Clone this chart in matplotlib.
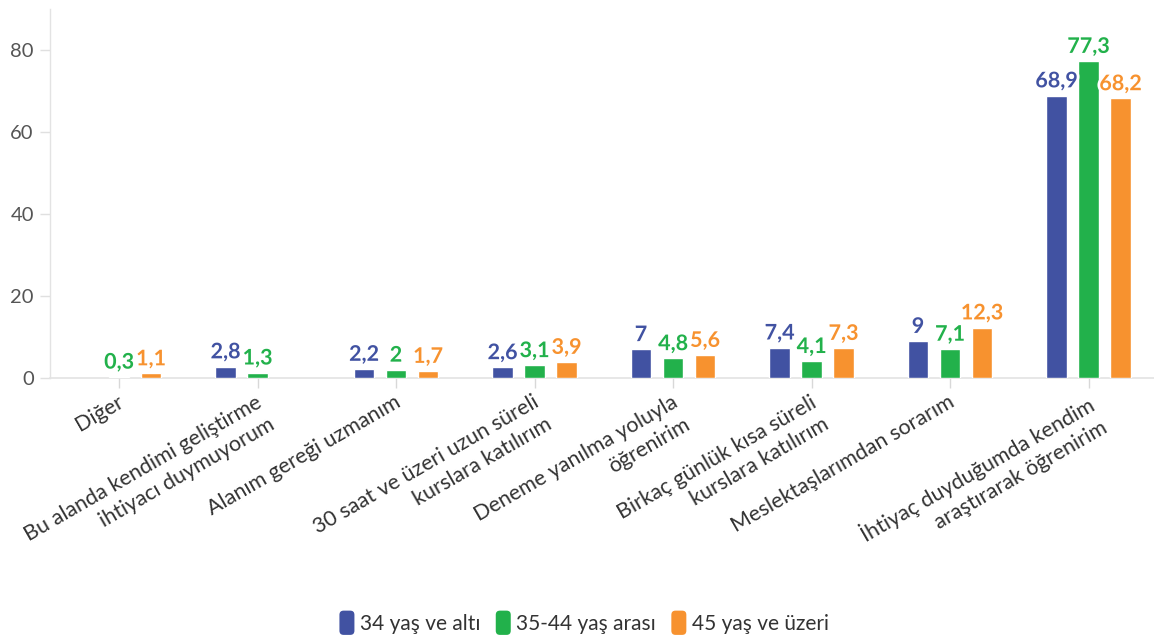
import numpy as np
import matplotlib
matplotlib.use("Agg")
import matplotlib.pyplot as plt
from matplotlib import patheffects, transforms
from matplotlib.patches import FancyBboxPatch
from matplotlib.legend_handler import HandlerPatch

plt.rcParams['font.family'] = ['Lato', 'DejaVu Sans']

categories = [
    "Diğer",
    "Bu alanda kendimi geliştirme\nihtiyacı duymuyorum",
    "Alanım gereği uzmanım",
    "30 saat ve üzeri uzun süreli\nkurslara katılırım",
    "Deneme yanılma yoluyla\nöğrenirim",
    "Birkaç günlük kısa süreli\nkurslara katılırım",
    "Meslektaşlarımdan sorarım",
    "İhtiyaç duyduğumda kendim\naraştırarak öğrenirim",
]
series_names = ["34 yaş ve altı", "35-44 yaş arası", "45 yaş ve üzeri"]
young = [None, 2.8, 2.2, 2.6, 7.0, 7.4, 9.0, 68.9]
middle = [0.3, 1.3, 2.0, 3.1, 4.8, 4.1, 7.1, 77.3]
senior = [1.1, None, 1.7, 3.9, 5.6, 7.3, 12.3, 68.2]
colors = ["#4152a2", "#22b14b", "#f7922f"]
y_ticks = [0, 20, 40, 60, 80]

W, H = 1154, 642
fig = plt.figure(figsize=(W / 100, H / 100), dpi=100)
left_px, right_px, top_px, base_px = 49.75, 1154, 9, 378
ax = fig.add_axes([left_px / W, 1 - base_px / H,
                   (right_px - left_px) / W, (base_px - top_px) / H])

x = np.arange(len(categories))
offset = 0.231
width = 0.148
halo = [patheffects.withStroke(linewidth=4, foreground="white")]

def fmt(v):
    s = f"{v:.1f}".replace(".", ",")
    return s[:-2] if s.endswith(",0") else s

for i, (vals, col) in enumerate(zip([young, middle, senior], colors)):
    xs = x + (i - 1) * offset
    for xi, v in zip(xs, vals):
        if v is None:
            continue
        ax.bar(xi, v, width=width, color=col, edgecolor="white", linewidth=1, zorder=3)
        ax.annotate(fmt(v), (xi, v), xytext=(0, 3), textcoords="offset points",
                    ha="center", va="bottom", fontsize=15.5, fontweight="bold",
                    color=col, path_effects=halo, zorder=5)

ax.set_xlim(-0.5, 7.5 - 3.75 / 138.5)
ax.set_ylim(0, 90)
ax.set_yticks(y_ticks)
ax.set_yticklabels([str(t) for t in y_ticks], fontsize=14.5, color="#555555")
ax.tick_params(axis="y", length=7.2, color="#e0e0e0", width=1, pad=4.3)

ax.set_xticks(x)
ax.set_xticklabels(categories, rotation=30, ha="right", va="top",
                   rotation_mode="anchor", fontsize=15.5, color="#333333",
                   multialignment="right", linespacing=1.35)
ax.tick_params(axis="x", length=7.2, color="#d8d8d8", width=1, pad=3)
shift = transforms.ScaledTranslation(-2 / 100, 0, fig.dpi_scale_trans)
for lbl in ax.get_xticklabels():
    lbl.set_transform(lbl.get_transform() + shift)

for s in ["top", "right"]:
    ax.spines[s].set_visible(False)
ax.spines["left"].set_color("#e3e3e3")
ax.spines["bottom"].set_color("#e3e3e3")
ax.spines["left"].set_linewidth(1)
ax.spines["bottom"].set_linewidth(1.2)


class RoundHandler(HandlerPatch):
    def create_artists(self, legend, orig_handle, xdescent, ydescent, width, height, fontsize, trans):
        p = FancyBboxPatch((-xdescent, -ydescent - 3), width, height + 6,
                           boxstyle="round,pad=0,rounding_size=3",
                           facecolor=orig_handle.get_facecolor(), edgecolor="none",
                           transform=trans)
        return [p]


handles = [FancyBboxPatch((0, 0), 1, 1, facecolor=c) for c in colors]
leg = fig.legend(handles, series_names, loc="center", bbox_to_anchor=(0.506, 1 - 624 / H),
                 ncol=3, frameon=False, fontsize=15, handlelength=0.72, handleheight=0.8,
                 handletextpad=0.25, columnspacing=0.75,
                 handler_map={FancyBboxPatch: RoundHandler()})
for t in leg.get_texts():
    t.set_color("#333333")

fig.savefig("out.png", dpi=100, facecolor="white")
